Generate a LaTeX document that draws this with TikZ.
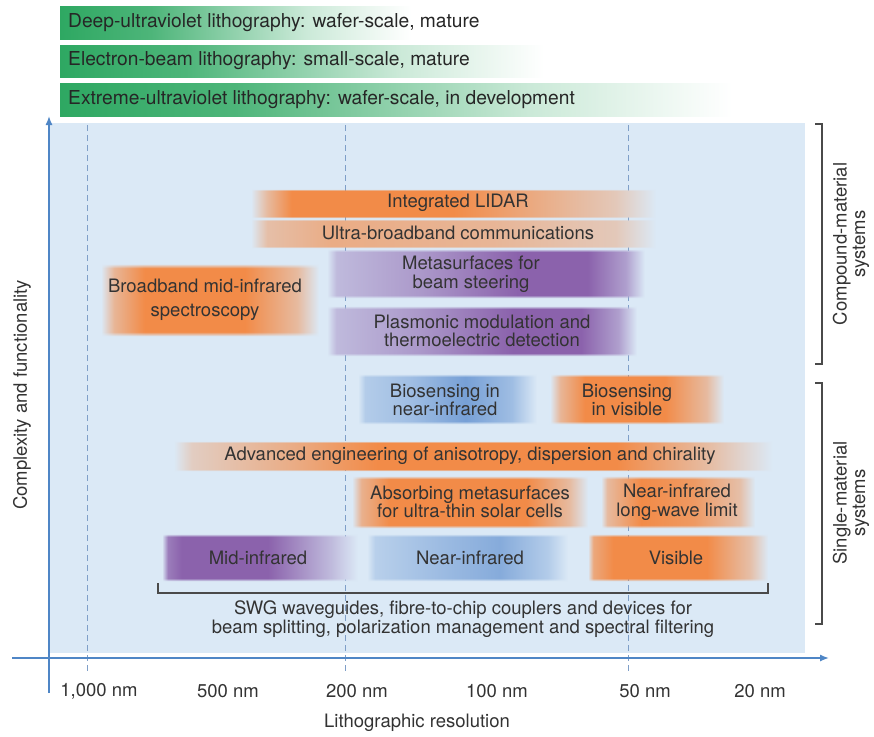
\documentclass[tikz,border=0pt]{standalone}
\usepackage{fontspec}
\setmainfont{TeX Gyre Heros}
\usepackage{xcolor}
\usetikzlibrary{arrows.meta,positioning,fadings}
\definecolor{lithofond}{HTML}{DBE9F6}
\definecolor{lithovert}{HTML}{2EA862}
\definecolor{lithoorange}{HTML}{F28B48}
\definecolor{lithoviolet}{HTML}{8B62AC}
\definecolor{lithobleu}{HTML}{77A0D6}
\definecolor{lithoaxe}{HTML}{4F86C6}
\definecolor{lithotiret}{HTML}{7F9FC8}
\definecolor{lithotexte}{HTML}{333333}
\definecolor{lithocrochet}{HTML}{4A4A4A}

% degrades horizontaux des bandes (le chemin couvre 25bp a 75bp)
\pgfdeclarehorizontalshading{vertsh}{100bp}{color(0bp)=(lithovert); color(25bp)=(lithovert); color(38bp)=(lithovert!85!white); color(60bp)=(lithovert!25!white); color(75bp)=(white); color(100bp)=(white)}
\pgfdeclarehorizontalshading{lidarsh}{100bp}{color(0bp)=(lithofond); color(25bp)=(lithofond); color(27bp)=(lithoorange!50!lithofond); color(30bp)=(lithoorange); color(50bp)=(lithoorange); color(62bp)=(lithoorange!60!lithofond); color(70bp)=(lithoorange!35!lithofond); color(75bp)=(lithofond); color(100bp)=(lithofond)}
\pgfdeclarehorizontalshading{commsh}{100bp}{color(0bp)=(lithofond); color(25bp)=(lithofond); color(27bp)=(lithoorange!45!lithofond); color(35bp)=(lithoorange!65!lithofond); color(55bp)=(lithoorange!55!lithofond); color(70bp)=(lithoorange!35!lithofond); color(75bp)=(lithofond); color(100bp)=(lithofond)}
\pgfdeclarehorizontalshading{metash}{100bp}{color(0bp)=(lithofond); color(25bp)=(lithofond); color(26.5bp)=(lithoviolet!35!lithofond); color(40bp)=(lithoviolet!60!lithofond); color(55bp)=(lithoviolet); color(66bp)=(lithoviolet); color(72bp)=(lithoviolet!55!lithofond); color(75bp)=(lithofond); color(100bp)=(lithofond)}
\pgfdeclarehorizontalshading{specsh}{100bp}{color(0bp)=(lithofond); color(25bp)=(lithofond); color(28bp)=(lithoorange!55!lithofond); color(35bp)=(lithoorange); color(58bp)=(lithoorange); color(70bp)=(lithoorange!50!lithofond); color(75bp)=(lithofond); color(100bp)=(lithofond)}
\pgfdeclarehorizontalshading{biosh}{100bp}{color(0bp)=(lithofond); color(25bp)=(lithofond); color(27bp)=(lithobleu!40!lithofond); color(40bp)=(lithobleu!60!lithofond); color(55bp)=(lithobleu); color(68bp)=(lithobleu!60!lithofond); color(75bp)=(lithofond); color(100bp)=(lithofond)}
\pgfdeclarehorizontalshading{advsh}{100bp}{color(0bp)=(lithofond); color(25bp)=(lithofond); color(26.5bp)=(lithoorange!30!lithofond); color(35bp)=(lithoorange!65!lithofond); color(42bp)=(lithoorange); color(62bp)=(lithoorange); color(70bp)=(lithoorange!45!lithofond); color(75bp)=(lithofond); color(100bp)=(lithofond)}
\pgfdeclarehorizontalshading{absh}{100bp}{color(0bp)=(lithofond); color(25bp)=(lithofond); color(27bp)=(lithoorange!60!lithofond); color(33bp)=(lithoorange); color(62bp)=(lithoorange); color(71bp)=(lithoorange!50!lithofond); color(75bp)=(lithofond); color(100bp)=(lithofond)}
\pgfdeclarehorizontalshading{limsh}{100bp}{color(0bp)=(lithofond); color(25bp)=(lithofond); color(27bp)=(lithoorange!50!lithofond); color(38bp)=(lithoorange); color(55bp)=(lithoorange!85!lithofond); color(70bp)=(lithoorange!45!lithofond); color(75bp)=(lithofond); color(100bp)=(lithofond)}
\pgfdeclarehorizontalshading{midsh}{100bp}{color(0bp)=(lithofond); color(25bp)=(lithofond); color(26.5bp)=(lithoviolet!80!lithofond); color(30bp)=(lithoviolet); color(52bp)=(lithoviolet); color(68bp)=(lithoviolet!35!lithofond); color(75bp)=(lithofond); color(100bp)=(lithofond)}
\pgfdeclarehorizontalshading{nirsh}{100bp}{color(0bp)=(lithofond); color(25bp)=(lithofond); color(27bp)=(lithobleu!35!lithofond); color(45bp)=(lithobleu!65!lithofond); color(58bp)=(lithobleu!85!lithofond); color(70bp)=(lithobleu!40!lithofond); color(75bp)=(lithofond); color(100bp)=(lithofond)}
\pgfdeclarehorizontalshading{vissh}{100bp}{color(0bp)=(lithofond); color(25bp)=(lithofond); color(26.5bp)=(lithoorange!70!lithofond); color(32bp)=(lithoorange); color(58bp)=(lithoorange); color(70bp)=(lithoorange!45!lithofond); color(75bp)=(lithofond); color(100bp)=(lithofond)}
% bords flous haut et bas
\pgfdeclareverticalshading{bordflou}{100bp}{color(0bp)=(black); color(25bp)=(black); color(28bp)=(white); color(72bp)=(white); color(75bp)=(black); color(100bp)=(black)}
\pgfdeclarefading{flou}{\pgfuseshading{bordflou}}

\tikzset{
  lab/.style={text=lithotexte, align=center, inner sep=0pt},
  bande/.style={path fading=flou},
  tiret/.style={lithotiret, dash pattern=on 6pt off 4pt, line width=0.7pt},
  axe/.style={lithoaxe, line width=1.4pt, -{Latex[length=9pt,width=7pt]}},
  crochet/.style={lithocrochet, line width=1.1pt},
}

\begin{document}
\begin{tikzpicture}[x=1pt, y=-1pt, every node/.style={font=\fontsize{18.5}{18.5}\selectfont}]
  \useasboundingbox (0,0) rectangle (874,736);
  % bandes vertes en haut
  \shade[shading=vertsh] (60,6) rectangle (411,39);
  \shade[shading=vertsh] (60,45) rectangle (544,77);
  \shade[shading=vertsh] (60,83) rectangle (732,116);
  \node[lab, anchor=west, text=black!85, font=\fontsize{19.2}{19}\selectfont] (duv) at (68,22.5) {Deep-ultraviolet lithography: wafer-scale, mature};
  \node[lab, anchor=west, text=black!85, font=\fontsize{19.2}{19}\selectfont] (ebl) at (68,61) {Electron-beam lithography: small-scale, mature};
  \node[lab, anchor=west, text=black!85, font=\fontsize{19.2}{19}\selectfont] (euv) at (68,99.5) {Extreme-ultraviolet lithography: wafer-scale, in development};
  % fond bleu
  \fill[lithofond] (50,123) rectangle (805,653);
  \foreach \x in {87,345,628} \draw[tiret] (\x,125) -- (\x,672);
  % materiaux composes
  \shade[bande, shading=lidarsh] (251,189) rectangle (656,218);
  \shade[bande, shading=commsh] (251,219) rectangle (656,248);
  \shade[bande, shading=metash] (327,249) rectangle (645,298);
  \shade[bande, shading=metash] (327,306) rectangle (637,356);
  \shade[bande, shading=specsh] (101,264) rectangle (319,336);
  \node[lab] (lidar) at (458,203) {Integrated LIDAR};
  \node[lab] (comm) at (458,233) {Ultra-broadband communications};
  \node[lab] (meta) at (471,274) {Metasurfaces for\\beam steering};
  \node[lab] (plasmo) at (482,331) {Plasmonic modulation and\\thermoelectric detection};
  \node[lab] (spectro) at (205,300) {Broadband mid-infrared\\[5.5pt]spectroscopy};
  % materiau unique
  \shade[bande, shading=biosh] (358,374) rectangle (537,424);
  \shade[bande, shading=specsh] (550,374) rectangle (724,424);
  \shade[bande, shading=advsh] (174,441) rectangle (773,471);
  \shade[bande, shading=absh] (352,476) rectangle (588,528);
  \shade[bande, shading=limsh] (601,476) rectangle (755,528);
  \shade[bande, shading=midsh] (162,534) rectangle (358,581);
  \shade[bande, shading=nirsh] (367,534) rectangle (568,581);
  \shade[bande, shading=vissh] (588,534) rectangle (768,581);
  \node[lab] (bionir) at (445,400) {Biosensing in\\near-infrared};
  \node[lab] (biovis) at (627,400) {Biosensing\\in visible};
  \node[lab] (aniso) at (470,456) {Advanced engineering of anisotropy, dispersion and chirality};
  \node[lab] (solaire) at (470,502) {Absorbing metasurfaces\\for ultra-thin solar cells};
  \node[lab] (limite) at (677,502) {Near-infrared\\long-wave limit};
  \node[lab] (midir) at (258,558) {Mid-infrared};
  \node[lab] (nir) at (470,558) {Near-infrared};
  \node[lab] (visible) at (676,558) {Visible};
  % crochet du bas
  \draw[crochet] (158,583) -- (158,593) -- (768,593) -- (768,583);
  \node[lab] (swg) at (463,619) {SWG waveguides, fibre-to-chip couplers and devices for\\beam splitting, polarization management and spectral filtering};
  % crochets a droite
  \draw[crochet] (815,124) -- (822,124) -- (822,364) -- (815,364);
  \draw[crochet] (815,383) -- (822,383) -- (822,624) -- (815,624);
  \node[lab, rotate=90] (compose) at (851,244) {Compound-material\\systems};
  \node[lab, rotate=90] (unique) at (851,503) {Single-material\\systems};
  % axes
  \coordinate (xdeb) at (12,658);
  \coordinate (xfin) at (829,658);
  \coordinate (ybas) at (49,693);
  \coordinate (yhaut) at (49,116);
  \draw[axe] (xdeb) -- (xfin);
  \draw[axe] (ybas) -- (yhaut);
  \foreach \x/\t/\n in {99/{1,000 nm}/a, 228/{500 nm}/b, 357/{200 nm}/c, 497/{100 nm}/d, 645/{50 nm}/e, 760/{20 nm}/f}
    \node[lab] (res\n) at (\x,691) {\t};
  \node[lab] (xtitre) at (417,723) {Lithographic resolution};
  \node[lab, rotate=90] (ytitre) at (22,395) {Complexity and functionality};
\end{tikzpicture}
\end{document}
